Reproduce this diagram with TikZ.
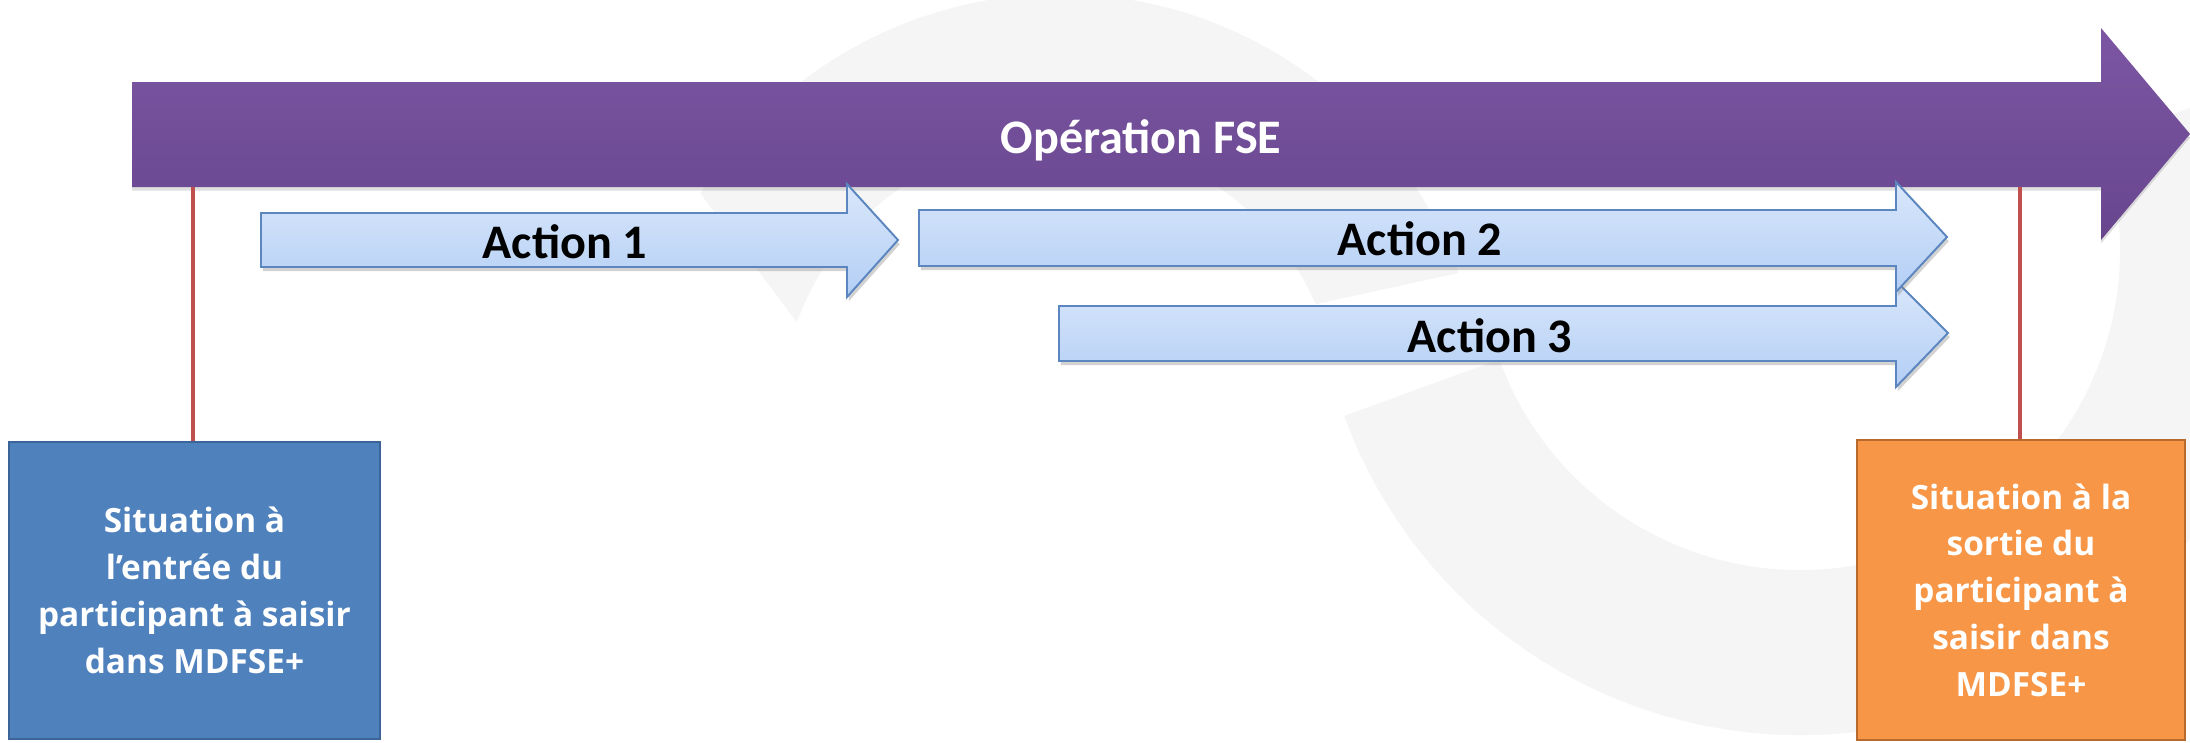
\documentclass[tikz,border=0pt]{standalone}
\usepackage{fontspec}
\newfontfamily\calib{Carlito}
\newfontfamily\boxf{Open Sans}
\usetikzlibrary{calc,shadows}
\definecolor{purpT}{HTML}{7C56A3}
\definecolor{purpB}{HTML}{68468E}
\definecolor{actT}{HTML}{D9E7FB}
\definecolor{actB}{HTML}{B3CEF5}
\definecolor{actD}{HTML}{5B86BF}
\definecolor{redL}{HTML}{C0504D}
\definecolor{blueF}{HTML}{4F81BD}
\definecolor{blueD}{HTML}{3B6599}
\definecolor{oraF}{HTML}{F79646}
\definecolor{oraD}{HTML}{B8692C}
\definecolor{wmark}{HTML}{F5F5F5}
\begin{document}
\begin{tikzpicture}[x=0.01cm,y=-0.01cm,
  wm/.style={fill=wmark},
  purparrow/.style={top color=purpT,bottom color=purpB,
    drop shadow={shadow xshift=0pt,shadow yshift=-1pt,opacity=0.25}},
  actarrow/.style={top color=actT,bottom color=actB,draw=actD,line width=0.55pt,
    drop shadow={shadow xshift=0.5pt,shadow yshift=-1.2pt,opacity=0.35}},
  acttext/.style={anchor=base,inner sep=0pt,text=black,
    font=\calib\bfseries\fontsize{13.7pt}{16pt}\selectfont},
  optext/.style={anchor=base,inner sep=0pt,text=white,
    font=\calib\bfseries\fontsize{13.7pt}{16pt}\selectfont},
  redline/.style={draw=redL,line width=1.4pt},
  sitbox/.style={rectangle,inner sep=0pt,line width=0.6pt,text=white,align=center,
    font=\boxf\bfseries\fontsize{9.5pt}{13.3pt}\selectfont}
]
\useasboundingbox (0,0) rectangle (2190,742);
\fill[white] (0,0) rectangle (2190,742);
% watermark
\fill[wm] ($(1060,418)+(212:424)$) arc[start angle=212,end angle=340,radius=424]
  -- ($(1060,418)+(336:280)$) arc[start angle=336,end angle=200,radius=280] -- cycle;
\fill[wm] ($(1800,250)+(160:485)$) arc[start angle=160,end angle=-20,radius=485]
  -- ($(1800,250)+(-20:320)$) arc[start angle=-20,end angle=160,radius=320] -- cycle;
% main operation arrow
\path[purparrow] (132,82) -- (2101,82) -- (2101,28) -- (2190,134) -- (2101,240)
  -- (2101,187) -- (132,187) -- cycle;
\node[optext] (op) at (1141,153) {Opération FSE};
% actions
\path[actarrow] (261,213) -- (847,213) -- (847,184) -- (898,240) -- (847,297)
  -- (847,267) -- (261,267) -- cycle;
\path[actarrow] (1059,306) -- (1896,306) -- (1896,281) -- (1948,333) -- (1896,387)
  -- (1896,361) -- (1059,361) -- cycle;
\path[actarrow] (919,210) -- (1896,210) -- (1896,182) -- (1947,237) -- (1896,292)
  -- (1896,266) -- (919,266) -- cycle;
\node[acttext] (a1) at (565,258) {Action 1};
\node[acttext] (a2) at (1420,255) {Action 2};
\node[acttext] (a3) at (1490,352) {Action 3};
% situation boxes
\node[sitbox,fill=blueF,draw=blueD,minimum width=3.71cm,minimum height=2.97cm]
  (entree) at (194.5,590.5) {Situation à\\l’entrée du\\participant à saisir\\dans MDFSE+};
\node[sitbox,fill=oraF,draw=oraD,minimum width=3.28cm,minimum height=3.0cm]
  (sortie) at (2021,590) {Situation à la\\sortie du\\participant à\\saisir dans\\MDFSE+};
% connectors
\coordinate (pl) at (193,187);
\coordinate (pr) at (2020,187);
\draw[redline] (pl) -- (pl |- entree.north);
\draw[redline] (pr) -- (pr |- sortie.north);
\end{tikzpicture}
\end{document}
